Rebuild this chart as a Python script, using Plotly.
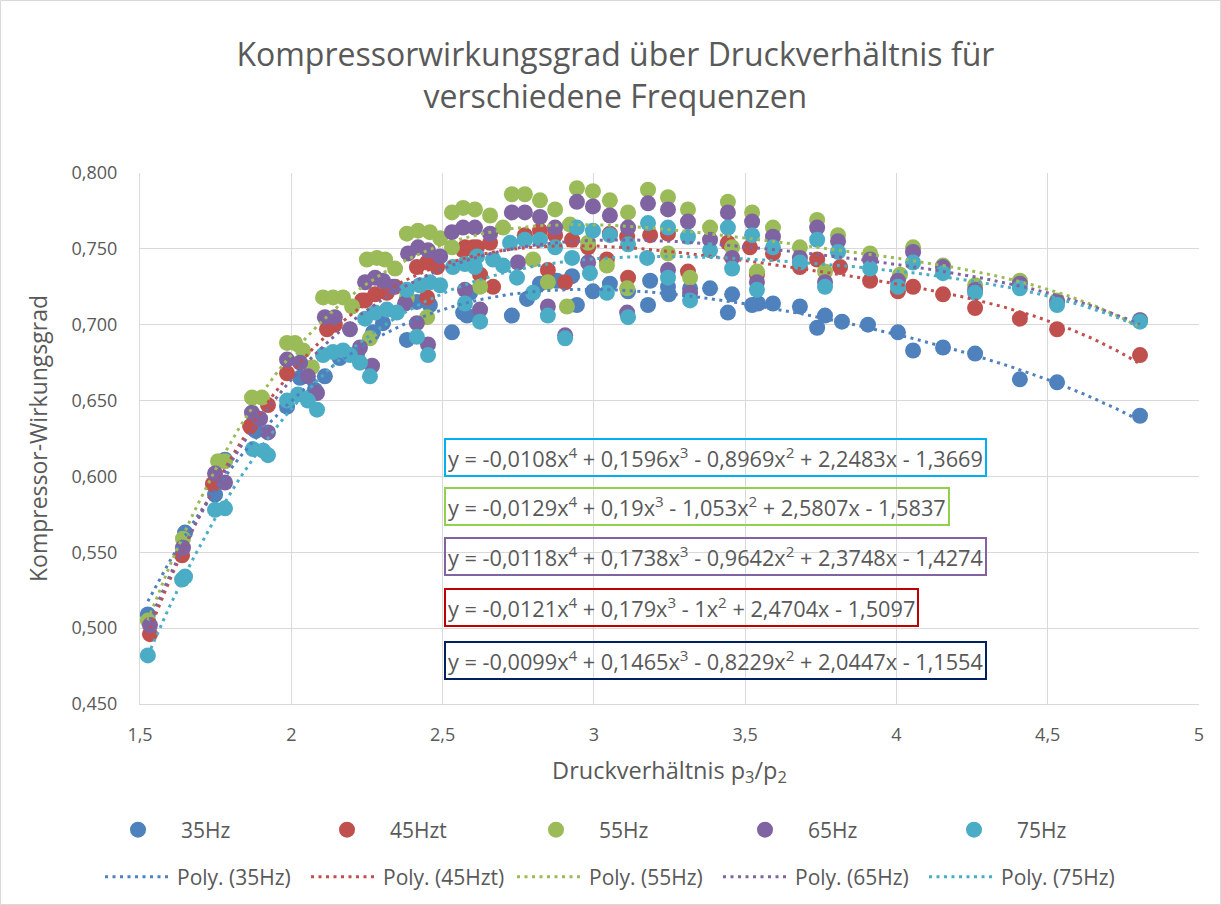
import numpy as np
import plotly.graph_objects as go

# Measured pressure ratio p3/p2 and compressor efficiency per frequency
x35 = [1.526, 1.649, 1.748, 1.781, 1.883, 1.986, 2.029, 2.078, 2.111, 2.160, 2.217, 2.270, 2.303,
       2.382, 2.415, 2.458, 2.531, 2.568, 2.581, 2.591, 2.729, 2.779, 2.822, 2.878, 2.928, 2.944,
       2.997, 3.053, 3.113, 3.179, 3.186, 3.245, 3.248, 3.318, 3.384, 3.443, 3.457, 3.523, 3.543,
       3.592, 3.681, 3.738, 3.764, 3.820, 3.906, 4.005, 4.055, 4.154, 4.260, 4.408, 4.531, 4.805]
y35 = [0.509, 0.563, 0.588, 0.611, 0.630, 0.646, 0.665, 0.657, 0.666, 0.678, 0.680, 0.695, 0.701,
       0.690, 0.715, 0.713, 0.695, 0.708, 0.706, 0.721, 0.706, 0.717, 0.727, 0.729, 0.732, 0.713,
       0.722, 0.727, 0.722, 0.713, 0.729, 0.725, 0.720, 0.724, 0.724, 0.708, 0.720, 0.713, 0.714,
       0.714, 0.712, 0.698, 0.706, 0.702, 0.700, 0.695, 0.683, 0.685, 0.681, 0.664, 0.662, 0.640]

x45 = [1.533, 1.639, 1.741, 1.864, 1.923, 1.986, 2.118, 2.144, 2.234, 2.244, 2.277, 2.316, 2.343,
       2.415, 2.449, 2.449, 2.482, 2.568, 2.574, 2.601, 2.614, 2.624, 2.657, 2.667, 2.772, 2.822,
       2.848, 2.872, 2.905, 2.928, 2.981, 3.043, 3.053, 3.110, 3.113, 3.186, 3.245, 3.311, 3.443,
       3.516, 3.539, 3.592, 3.681, 3.738, 3.814, 3.913, 4.005, 4.055, 4.154, 4.260, 4.408, 4.531,
       4.805]
y45 = [0.496, 0.548, 0.595, 0.633, 0.647, 0.668, 0.697, 0.700, 0.716, 0.716, 0.720, 0.721, 0.725,
       0.738, 0.741, 0.718, 0.738, 0.749, 0.751, 0.751, 0.751, 0.733, 0.754, 0.725, 0.759, 0.762,
       0.736, 0.759, 0.728, 0.756, 0.751, 0.743, 0.760, 0.758, 0.731, 0.759, 0.760, 0.735, 0.754,
       0.751, 0.733, 0.747, 0.738, 0.743, 0.738, 0.729, 0.722, 0.725, 0.720, 0.711, 0.704, 0.697,
       0.680]

x55 = [1.526, 1.642, 1.758, 1.781, 1.870, 1.903, 1.986, 2.012, 2.039, 2.068, 2.105, 2.138, 2.171,
       2.201, 2.250, 2.260, 2.283, 2.310, 2.343, 2.382, 2.382, 2.419, 2.449, 2.458, 2.492, 2.531,
       2.531, 2.568, 2.607, 2.624, 2.657, 2.700, 2.729, 2.772, 2.799, 2.822, 2.848, 2.872, 2.911,
       2.921, 2.944, 2.981, 2.997, 3.043, 3.053, 3.110, 3.113, 3.179, 3.245, 3.245, 3.311, 3.318,
       3.384, 3.443, 3.457, 3.523, 3.539, 3.592, 3.681, 3.738, 3.764, 3.807, 3.913, 4.012, 4.055,
       4.154, 4.260, 4.408, 4.531, 4.805]
y55 = [0.505, 0.559, 0.610, 0.610, 0.652, 0.652, 0.688, 0.688, 0.683, 0.672, 0.718, 0.718, 0.718,
       0.712, 0.743, 0.691, 0.744, 0.743, 0.737, 0.760, 0.718, 0.762, 0.705, 0.761, 0.757, 0.774,
       0.751, 0.777, 0.776, 0.725, 0.772, 0.764, 0.786, 0.786, 0.743, 0.782, 0.728, 0.776, 0.712,
       0.766, 0.790, 0.754, 0.788, 0.739, 0.782, 0.724, 0.774, 0.789, 0.784, 0.747, 0.776, 0.731,
       0.764, 0.781, 0.751, 0.774, 0.735, 0.764, 0.751, 0.769, 0.735, 0.759, 0.747, 0.733, 0.751,
       0.739, 0.726, 0.729, 0.716, 0.703]

x65 = [1.533, 1.642, 1.748, 1.781, 1.870, 1.897, 1.923, 1.986, 2.029, 2.055, 2.085, 2.111, 2.144,
       2.194, 2.227, 2.267, 2.244, 2.277, 2.303, 2.336, 2.386, 2.419, 2.452, 2.492, 2.376, 2.415,
       2.452, 2.531, 2.568, 2.607, 2.657, 2.574, 2.624, 2.729, 2.772, 2.822, 2.872, 2.749, 2.848,
       2.905, 2.944, 2.997, 3.053, 3.113, 2.981, 3.110, 3.179, 3.245, 3.311, 3.384, 3.443, 3.523,
       3.592, 3.681, 3.738, 3.807, 3.245, 3.318, 3.457, 3.539, 3.764, 3.913, 4.005, 4.055, 4.154,
       4.260, 4.408, 4.531, 4.805]
y65 = [0.502, 0.553, 0.602, 0.596, 0.642, 0.638, 0.629, 0.677, 0.675, 0.666, 0.655, 0.705, 0.705,
       0.697, 0.685, 0.673, 0.728, 0.731, 0.729, 0.725, 0.747, 0.751, 0.749, 0.745, 0.714, 0.701,
       0.687, 0.761, 0.764, 0.764, 0.760, 0.723, 0.710, 0.774, 0.774, 0.771, 0.764, 0.741, 0.712,
       0.693, 0.781, 0.778, 0.772, 0.764, 0.741, 0.708, 0.780, 0.776, 0.768, 0.756, 0.774, 0.768,
       0.758, 0.744, 0.764, 0.755, 0.736, 0.721, 0.744, 0.728, 0.728, 0.743, 0.729, 0.748, 0.738,
       0.723, 0.727, 0.715, 0.703]

x75 = [1.526, 1.639, 1.649, 1.748, 1.781, 1.873, 1.907, 1.923, 1.986, 2.022, 2.055, 2.085, 2.105,
       2.138, 2.171, 2.194, 2.227, 2.260, 2.244, 2.277, 2.316, 2.349, 2.382, 2.425, 2.458, 2.492,
       2.415, 2.452, 2.534, 2.574, 2.607, 2.614, 2.667, 2.700, 2.574, 2.624, 2.723, 2.772, 2.822,
       2.872, 2.746, 2.799, 2.848, 2.905, 2.944, 2.997, 3.053, 3.113, 2.928, 2.987, 3.043, 3.113,
       3.179, 3.176, 3.245, 3.311, 3.384, 3.245, 3.318, 3.443, 3.523, 3.592, 3.681, 3.738, 3.807,
       3.457, 3.539, 3.764, 3.913, 4.005, 4.055, 4.154, 4.260, 4.408, 4.531, 4.805]
y75 = [0.482, 0.532, 0.534, 0.578, 0.579, 0.618, 0.617, 0.614, 0.650, 0.654, 0.650, 0.644, 0.680,
       0.682, 0.683, 0.680, 0.675, 0.666, 0.704, 0.708, 0.710, 0.708, 0.723, 0.726, 0.728, 0.726,
       0.692, 0.680, 0.738, 0.740, 0.738, 0.745, 0.743, 0.739, 0.714, 0.702, 0.754, 0.756, 0.756,
       0.751, 0.731, 0.721, 0.706, 0.691, 0.764, 0.762, 0.759, 0.753, 0.744, 0.734, 0.721, 0.705,
       0.767, 0.744, 0.764, 0.758, 0.749, 0.731, 0.716, 0.764, 0.759, 0.751, 0.741, 0.756, 0.748,
       0.737, 0.723, 0.725, 0.737, 0.725, 0.741, 0.734, 0.721, 0.724, 0.713, 0.702]

series_names = ["35Hz", "45Hzt", "55Hz", "65Hz", "75Hz"]
series_x = [x35, x45, x55, x65, x75]
series_y = [y35, y45, y55, y65, y75]
series_colors = ["#4F81BD", "#C0504D", "#9BBB59", "#8064A2", "#4BACC6"]

# Trend line equation labels (top to bottom) and their frame colours
equation_texts = [
    "y = -0,0108x<sup>4</sup> + 0,1596x<sup>3</sup> - 0,8969x<sup>2</sup> + 2,2483x - 1,3669",
    "y = -0,0129x<sup>4</sup> + 0,19x<sup>3</sup> - 1,053x<sup>2</sup> + 2,5807x - 1,5837",
    "y = -0,0118x<sup>4</sup> + 0,1738x<sup>3</sup> - 0,9642x<sup>2</sup> + 2,3748x - 1,4274",
    "y = -0,0121x<sup>4</sup> + 0,179x<sup>3</sup> - 1x<sup>2</sup> + 2,4704x - 1,5097",
    "y = -0,0099x<sup>4</sup> + 0,1465x<sup>3</sup> - 0,8229x<sup>2</sup> + 2,0447x - 1,1554",
]
equation_frames = ["#00B0F0", "#92D050", "#8064A2", "#C00000", "#002060"]
equation_y = [0.6128, 0.5805, 0.5475, 0.5139, 0.4790]

FONT = "Open Sans"
GREY = "#595959"
W, H = 1221, 905
ML, MR, MT, MB = 140, 22, 173, 201

fig = go.Figure()

for name, xs, ys, col in zip(series_names, series_x, series_y, series_colors):
    fig.add_trace(go.Scatter(
        x=xs, y=ys, mode="markers", name=name, legend="legend",
        marker=dict(color=col, size=16, line=dict(width=0)),
    ))

# 4th-order polynomial trend lines fitted to each series
for name, xs, ys, col in zip(series_names, series_x, series_y, series_colors):
    coef = np.polyfit(xs, ys, 4)
    xf = np.linspace(min(xs), max(xs), 300)
    fig.add_trace(go.Scatter(
        x=xf, y=np.polyval(coef, xf), mode="lines", name=f"Poly. ({name})",
        legend="legend2", hoverinfo="skip",
        line=dict(color=col, width=3, dash="3px,4.5px"),
    ))

for txt, frame, yv in zip(equation_texts, equation_frames, equation_y):
    fig.add_annotation(
        x=2.505, y=yv, xref="x", yref="y", xanchor="left", yanchor="middle",
        text=txt, showarrow=False, align="left",
        font=dict(family=FONT, size=21.7, color=GREY),
        bordercolor=frame, borderwidth=2, borderpad=2, bgcolor="rgba(0,0,0,0)",
    )

pw = W - ML - MR
ph = H - MT - MB
# outer chart frame
fig.add_shape(
    type="rect", xref="paper", yref="paper",
    x0=(0.5 - ML) / pw, x1=(W - 0.5 - ML) / pw,
    y0=-(H - 0.5 - MT - ph) / ph, y1=(MT - 0.5) / ph + 1,
    line=dict(color="#D9D9D9", width=1), layer="below",
)

fig.update_layout(
    width=W, height=H,
    margin=dict(l=ML, r=MR, t=MT, b=MB),
    paper_bgcolor="white", plot_bgcolor="white",
    separators=", ",
    font=dict(family=FONT, color=GREY),
    title=dict(
        text="Kompressorwirkungsgrad über Druckverhältnis für<br>verschiedene Frequenzen",
        x=0.504, xref="container", xanchor="center",
        y=1 - 66 / H, yref="container", yanchor="middle",
        font=dict(family=FONT, size=32, color=GREY),
    ),
    xaxis=dict(
        range=[1.5, 5], dtick=0.5, tick0=1.5, showgrid=True, gridcolor="#D9D9D9", gridwidth=1,
        zeroline=False, showline=True, linecolor="#D9D9D9", linewidth=1, ticks="",
        tickfont=dict(size=18, color=GREY), ticklabelstandoff=14,
        title=dict(text="Druckverhältnis p<sub>3</sub>/p<sub>2</sub>", font=dict(size=23.5, color=GREY), standoff=17),
    ),
    yaxis=dict(
        range=[0.45, 0.80], dtick=0.05, tickformat=".3f", showgrid=True, gridcolor="#D9D9D9",
        gridwidth=1, zeroline=False, showline=True, linecolor="#D9D9D9", linewidth=1, ticks="",
        tickfont=dict(size=18, color=GREY), ticklabelstandoff=18,
        title=dict(text="Kompressor-Wirkungsgrad", font=dict(size=23, color=GREY), standoff=17),
    ),
    legend=dict(
        orientation="h", xref="container", yref="container",
        x=95 / W, y=1 - 830 / H, xanchor="left", yanchor="middle",
        itemwidth=76, entrywidth=118, entrywidthmode="pixels",
        font=dict(family=FONT, size=21, color=GREY), bgcolor="rgba(0,0,0,0)",
        traceorder="normal",
    ),
    legend2=dict(
        orientation="h", xref="container", yref="container",
        x=100 / W, y=1 - 877 / H, xanchor="left", yanchor="middle",
        itemwidth=67, entrywidth=124, entrywidthmode="pixels",
        font=dict(family=FONT, size=21, color=GREY), bgcolor="rgba(0,0,0,0)",
        traceorder="normal",
    ),
    showlegend=True,
)

fig.write_html("out.html")
